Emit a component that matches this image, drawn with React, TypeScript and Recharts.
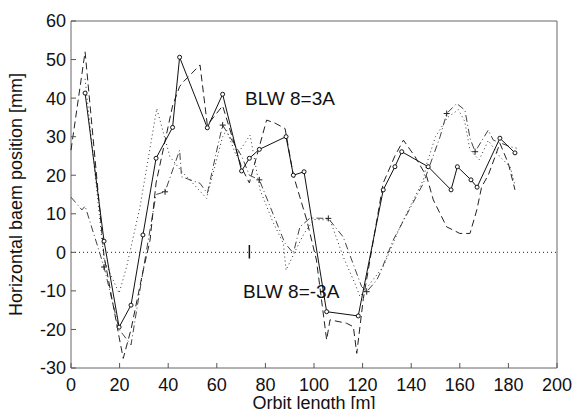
import React from "react";
import {
  LineChart,
  Line,
  XAxis,
  YAxis,
  ReferenceLine,
  ReferenceArea,
  ReferenceDot,
} from "recharts";

// orbit measurements, [s (m), x (mm)]
const measured = [
  [5.8, 41.3], [13.6, 2.9], [19.8, -19.4], [24.7, -13.7], [29.6, 4.5], [35, 24.4],
  [41.8, 32.4], [44.7, 50.6], [56.1, 32.3], [62.4, 41], [70.2, 21.1], [73.4, 24.4],
  [77.5, 26.7], [88.5, 30], [91.5, 20], [95.9, 20.9], [105.2, -15.4], [118.2, -16.5],
  [128.5, 16.2], [133.3, 22.2], [136.1, 26.1], [147, 22.2], [156.4, 16.2], [159, 22.2],
  [164.6, 18.8], [167.1, 16.9], [176.5, 29.6], [182.7, 25.8],
];

const dashed = [
  [0, 26.5], [5.8, 52], [13.6, -1], [19.8, -22], [21.5, -27.5], [24.7, -20], [29.6, -5],
  [32.5, 3], [35, 18], [41.8, 38], [44.7, 43], [46.2, 44.2], [53.1, 48.6], [56.1, 33],
  [62.4, 38], [70.2, 22], [73.4, 18], [80.5, 34.3], [84, 33.5], [88.1, 32.1], [91.5, 20],
  [97, 8.4], [101, -2], [105.2, -22.7], [106.6, -17.5], [113.4, -18.4], [116.2, -19.3],
  [117.6, -26.2], [120.3, -12], [128.5, 18], [133.3, 25], [136.8, 29.1], [141.6, 24.8],
  [146.4, 19.6], [149.1, 13.6], [154.6, 6.6], [157.2, 5.8], [160, 4.9], [164.2, 4.9],
  [167, 11], [169, 17], [171.7, 20], [174.5, 24.8], [176.5, 28.3], [180, 23], [182.7, 16.2],
];

const dashDot = [
  [0, 14.3], [4.5, 11], [5.8, 12], [13.6, -3.8], [19.8, -20], [24.7, -24], [29.6, -5],
  [35, 15], [38.7, 15.7], [44.7, 26.5], [45.5, 19.6], [53.1, 17.9], [56.1, 15.3], [60, 26.5],
  [62.4, 33], [70.2, 25], [73.4, 20], [77.5, 18.8], [88, 2.4], [91.5, -0.2], [94.2, 6.6],
  [98.4, 8.9], [105.9, 8.8], [112, 4], [119.6, -8.9], [121.7, -10.2], [125.8, -7.2],
  [127.2, -5.4], [132.6, 3.2], [145, 17.9], [151.9, 30], [154.6, 36], [158.7, 38.6],
  [162.1, 36.9], [164.2, 29.6], [166.3, 26.1], [171.7, 31.7], [173.8, 29.1], [180.7, 27.4],
  [183.4, 27],
];

// positions on the dash-dot curve that carry a "+" marker
const plusMarks = [13.6, 38.7, 62.4, 77.5, 105.9, 121.7, 154.6, 166.3];

const dotted = [
  [5.8, 45], [13.6, -2], [19.8, -10.6], [22.9, -3.7], [28.4, 11.8], [35.3, 37.3], [40.7, 24.8],
  [45.5, 21], [50, 18], [55.8, 14], [62.4, 30], [64, 31.7], [68, 25], [73.7, 30.4],
  [77.8, 16.2], [83, 8], [87.4, 2.3], [88.5, -4.6], [92, 0], [96, 5], [100, 8.5],
  [106.6, 8.4], [112, -1.1], [117.4, -8.9], [118.9, -11.5], [122, -9], [128.5, -3.7],
  [135.4, 6.6], [145, 18.8], [146.4, 23], [150, 30], [155, 35], [159.4, 37], [162, 34],
  [164.2, 26.5], [168, 24], [171.7, 29], [176.5, 24.8], [180.7, 22.2], [182.7, 17.5],
];

const xTicks = [0, 20, 40, 60, 80, 100, 120, 140, 160, 180, 200];
const yTicks = [-30, -20, -10, 0, 10, 20, 30, 40, 50, 60];

const toRows = (pts: number[][]) => pts.map(([x, y]) => ({ x, y }));

const FONT = "'Liberation Sans', Arial, Helvetica, sans-serif";
const tickStyle = { fontSize: 18, fill: "#111", fontFamily: FONT };

const PlusDot = (props: any) => {
  const { cx, cy, index, payload } = props;
  if (cx == null || cy == null || !payload || !plusMarks.includes(payload.x))
    return <g key={index} />;
  return (
    <path
      key={index}
      d={`M${cx - 3},${cy}h6M${cx},${cy - 3}v6`}
      stroke="#222"
      strokeWidth={1}
      fill="none"
    />
  );
};

export default function App() {
  return (
    <div style={{ position: "absolute", left: 0, top: 0, background: "#fff" }}>
      <LineChart
        width={576}
        height={409}
        margin={{ top: 21, right: 19, bottom: 0, left: 0 }}
        style={{ fontFamily: FONT }}
      >
        <XAxis
          dataKey="x"
          type="number"
          domain={[0, 200]}
          ticks={xTicks}
          interval={0}
          height={41}
          axisLine={false}
          tickLine={{ stroke: "#555" }}
          tickSize={-5}
          tickMargin={15}
          tick={tickStyle}
          label={{
            value: "Orbit length [m]",
            position: "insideBottom",
            offset: 0,
            style: { fontSize: 18, fill: "#111", fontFamily: FONT },
          }}
        />
        <YAxis
          type="number"
          domain={[-30, 60]}
          ticks={yTicks}
          interval={0}
          width={71}
          axisLine={false}
          tickLine={{ stroke: "#555" }}
          tickSize={-5}
          tickMargin={10}
          tick={tickStyle}
          label={{
            value: "Horizontal baem position [mm]",
            angle: -90,
            position: "insideLeft",
            offset: 16,
            style: { fontSize: 18, fill: "#111", fontFamily: FONT, textAnchor: "middle" },
          }}
        />
        <ReferenceArea
          x1={0}
          x2={200}
          y1={-30}
          y2={60}
          fill="none"
          stroke="#666"
          strokeWidth={1}
          ifOverflow="visible"
        />
        <ReferenceLine y={0} stroke="#222" strokeDasharray="1 3" />
        <ReferenceLine
          segment={[
            { x: 73.4, y: -1.6 },
            { x: 73.4, y: 1.9 },
          ]}
          stroke="#111"
          strokeWidth={1.5}
        />
        <Line
          data={toRows(dotted)}
          dataKey="y"
          stroke="#333"
          strokeWidth={1}
          strokeDasharray="1 3"
          dot={false}
          isAnimationActive={false}
        />
        <Line
          data={toRows(dashDot)}
          dataKey="y"
          stroke="#444"
          strokeWidth={1}
          strokeDasharray="7 3 1 3"
          dot={PlusDot}
          isAnimationActive={false}
        />
        <Line
          data={toRows(dashed)}
          dataKey="y"
          stroke="#222"
          strokeWidth={1}
          strokeDasharray="7 4"
          dot={false}
          isAnimationActive={false}
        />
        <Line
          data={toRows(measured)}
          dataKey="y"
          stroke="#111"
          strokeWidth={1}
          dot={{ r: 2, fill: "#fff", stroke: "#111", strokeWidth: 1 }}
          isAnimationActive={false}
        />
        <ReferenceDot
          x={71.6}
          y={40}
          r={0}
          fill="none"
          stroke="none"
          label={{
            value: "BLW 8=3A",
            position: "right",
            offset: 0,
            style: { fontSize: 19, fill: "#111", fontFamily: FONT },
          }}
        />
        <ReferenceDot
          x={70.8}
          y={-10.2}
          r={0}
          fill="none"
          stroke="none"
          label={{
            value: "BLW 8=-3A",
            position: "right",
            offset: 0,
            style: { fontSize: 19, fill: "#111", fontFamily: FONT },
          }}
        />
      </LineChart>
    </div>
  );
}
